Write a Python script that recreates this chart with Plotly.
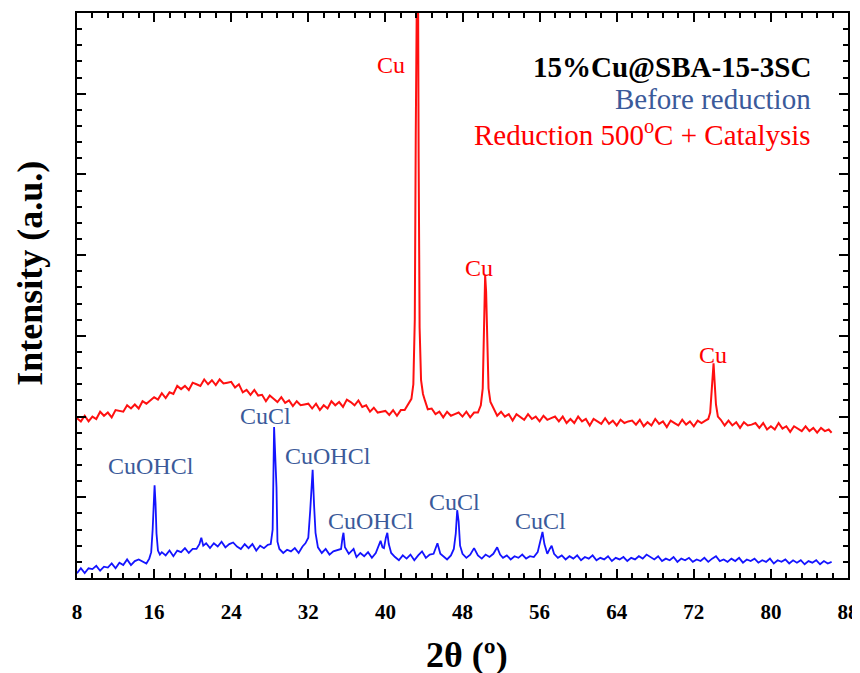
import plotly.graph_objects as go

# 2-theta positions and intensities (a.u., offset curves)
red_x = [8.0, 8.4, 8.8, 9.2, 9.6, 10.0, 10.4, 10.8, 11.2, 11.6, 12.0, 12.4, 12.8, 13.2, 13.6, 14.0,
         14.4, 14.8, 15.2, 15.6, 16.0, 16.4, 16.8, 17.2, 17.6, 18.0, 18.4, 18.8, 19.2, 19.6, 20.0,
         20.4, 20.8, 21.2, 21.6, 22.0, 22.4, 22.8, 23.2, 23.6, 24.0, 24.4, 24.8, 25.2, 25.6, 26.0,
         26.4, 26.8, 27.2, 27.6, 28.0, 28.4, 28.8, 29.2, 29.6, 30.0, 30.4, 30.8, 31.2, 31.6, 32.0,
         32.4, 32.8, 33.2, 33.6, 34.0, 34.4, 34.8, 35.2, 35.6, 36.0, 36.4, 36.8, 37.2, 37.6, 38.0,
         38.4, 38.8, 39.2, 39.6, 40.0, 40.4, 40.8, 41.2, 41.6, 42.0, 42.4, 42.7, 42.9, 43.05, 43.15,
         43.25, 43.35, 43.45, 43.55, 43.7, 43.9, 44.1, 44.4, 44.8, 45.2, 45.6, 46.0, 46.4, 46.8,
         47.2, 47.6, 48.0, 48.4, 48.8, 49.2, 49.6, 49.9, 50.1, 50.25, 50.35, 50.45, 50.55, 50.7,
         50.9, 51.2, 51.6, 52.0, 52.4, 52.8, 53.2, 53.6, 54.0, 54.4, 54.8, 55.2, 55.6, 56.0, 56.4,
         56.8, 57.2, 57.6, 58.0, 58.4, 58.8, 59.2, 59.6, 60.0, 60.4, 60.8, 61.2, 61.6, 62.0, 62.4,
         62.8, 63.2, 63.6, 64.0, 64.4, 64.8, 65.2, 65.6, 66.0, 66.4, 66.8, 67.2, 67.6, 68.0, 68.4,
         68.8, 69.2, 69.6, 70.0, 70.4, 70.8, 71.2, 71.6, 72.0, 72.4, 72.8, 73.2, 73.5, 73.7, 73.85,
         73.95, 74.05, 74.15, 74.3, 74.5, 74.8, 75.2, 75.6, 76.0, 76.4, 76.8, 77.2, 77.6, 78.0,
         78.4, 78.8, 79.2, 79.6, 80.0, 80.4, 80.8, 81.2, 81.6, 82.0, 82.4, 82.8, 83.2, 83.6, 84.0,
         84.4, 84.8, 85.2, 85.6, 86.0, 86.3]
red_y = [1.98, 1.94, 2.01, 1.94, 2.00, 1.97, 2.06, 2.01, 2.05, 1.99, 2.08, 2.07, 2.06, 2.14, 2.10,
         2.15, 2.10, 2.19, 2.16, 2.20, 2.24, 2.21, 2.29, 2.23, 2.30, 2.28, 2.38, 2.34, 2.38, 2.33,
         2.42, 2.40, 2.38, 2.46, 2.40, 2.45, 2.39, 2.46, 2.41, 2.42, 2.43, 2.36, 2.40, 2.30, 2.33,
         2.27, 2.33, 2.26, 2.27, 2.19, 2.26, 2.22, 2.18, 2.24, 2.17, 2.20, 2.13, 2.19, 2.14, 2.15,
         2.16, 2.10, 2.16, 2.08, 2.14, 2.10, 2.19, 2.14, 2.18, 2.12, 2.21, 2.18, 2.14, 2.20, 2.12,
         2.14, 2.06, 2.11, 2.05, 2.06, 2.07, 2.02, 2.08, 2.01, 2.08, 2.08, 2.17, 2.22, 2.40, 3.20,
         5.50, 8.60, 8.60, 5.20, 3.10, 2.45, 2.28, 2.20, 2.09, 2.10, 2.03, 2.06, 1.99, 2.06, 2.01,
         2.03, 2.05, 2.00, 2.06, 1.99, 2.05, 2.05, 2.14, 2.35, 3.00, 3.75, 3.55, 2.90, 2.35,
         2.18, 2.11, 2.01, 2.06, 2.00, 2.03, 1.95, 2.03, 2.00, 1.96, 2.03, 1.97, 2.00, 1.94, 2.01,
         1.96, 1.98, 2.00, 1.94, 2.00, 1.92, 1.97, 1.92, 2.00, 1.94, 1.97, 1.89, 1.97, 1.94, 1.91,
         1.98, 1.91, 1.95, 1.89, 1.96, 1.92, 1.94, 1.95, 1.90, 1.96, 1.88, 1.93, 1.89, 1.97, 1.91,
         1.94, 1.87, 1.95, 1.92, 1.89, 1.96, 1.90, 1.94, 1.88, 1.95, 1.92, 1.95, 1.97, 2.05, 2.30,
         2.55, 2.66, 2.45, 2.15, 2.00, 1.96, 1.89, 1.95, 1.89, 1.93, 1.86, 1.93, 1.89, 1.90,
         1.92, 1.86, 1.92, 1.84, 1.88, 1.84, 1.92, 1.85, 1.88, 1.81, 1.88, 1.85, 1.82, 1.88, 1.82,
         1.86, 1.80, 1.86, 1.82, 1.84, 1.80]

blue_x = [8.0, 8.4, 8.8, 9.2, 9.6, 10.0, 10.4, 10.8, 11.2, 11.6, 12.0, 12.4, 12.8, 13.2, 13.6, 14.0,
          14.4, 14.8, 15.2, 15.5, 15.7, 15.85, 15.95, 16.05, 16.15, 16.25, 16.4, 16.6, 16.8, 17.2,
          17.6, 18.0, 18.4, 18.8, 19.2, 19.6, 20.0, 20.4, 20.7, 20.9, 21.1, 21.4, 21.8, 22.2, 22.6,
          23.0, 23.4, 23.8, 24.2, 24.6, 25.0, 25.4, 25.8, 26.2, 26.6, 27.0, 27.4, 27.8, 28.1, 28.3,
          28.45, 28.55, 28.7, 28.8, 29.0, 29.4, 29.8, 30.2, 30.6, 31.0, 31.4, 31.7, 32.0, 32.2,
          32.45, 32.6, 32.75, 33.0, 33.4, 33.8, 34.2, 34.6, 35.0, 35.4, 35.55, 35.65, 35.8, 36.2,
          36.7, 37.0, 37.4, 37.8, 38.2, 38.6, 39.0, 39.3, 39.5, 39.7, 39.85, 40.05, 40.2, 40.35,
          40.6, 41.0, 41.4, 41.8, 42.2, 42.6, 43.0, 43.4, 43.8, 44.2, 44.6, 45.0, 45.4, 45.7, 46.0,
          46.4, 46.8, 47.1, 47.3, 47.45, 47.6, 47.75, 48.0, 48.4, 48.8, 49.2, 49.6, 50.0, 50.4,
          50.8, 51.2, 51.6, 51.9, 52.2, 52.6, 53.0, 53.4, 53.8, 54.2, 54.6, 55.0, 55.4, 55.8, 56.1,
          56.3, 56.5, 56.8, 57.05, 57.25, 57.5, 57.9, 58.3, 58.7, 59.1, 59.5, 59.9, 60.3, 60.7,
          61.1, 61.5, 61.9, 62.3, 62.7, 63.1, 63.5, 63.9, 64.3, 64.7, 65.1, 65.5, 65.9, 66.3, 66.7,
          67.1, 67.5, 67.9, 68.3, 68.7, 69.1, 69.5, 69.9, 70.3, 70.7, 71.1, 71.5, 71.9, 72.3, 72.7,
          73.1, 73.5, 73.9, 74.3, 74.7, 75.1, 75.5, 75.9, 76.3, 76.7, 77.1, 77.5, 77.9, 78.3, 78.7,
          79.1, 79.5, 79.9, 80.3, 80.7, 81.1, 81.5, 81.9, 82.3, 82.7, 83.1, 83.5, 83.9, 84.3, 84.7,
          85.1, 85.5, 85.9, 86.3]
blue_y = [0.06, 0.12, 0.06, 0.12, 0.11, 0.15, 0.09, 0.14, 0.13, 0.18, 0.12, 0.19, 0.16, 0.23, 0.16,
          0.21, 0.23, 0.20, 0.18, 0.24, 0.32, 0.60, 0.95, 1.15, 0.92, 0.55, 0.34, 0.29, 0.32, 0.28,
          0.34, 0.27, 0.34, 0.32, 0.37, 0.31, 0.36, 0.36, 0.42, 0.50, 0.40, 0.43, 0.37, 0.43, 0.39,
          0.45, 0.38, 0.42, 0.44, 0.39, 0.36, 0.42, 0.37, 0.42, 0.34, 0.40, 0.37, 0.41, 0.42, 0.60,
          1.87, 1.60, 1.12, 0.45, 0.36, 0.31, 0.35, 0.33, 0.37, 0.31, 0.39, 0.43, 0.50, 0.84,
          1.34, 0.90, 0.56, 0.38, 0.31, 0.36, 0.29, 0.33, 0.35, 0.36, 0.50, 0.56, 0.38, 0.30,
          0.36, 0.26, 0.31, 0.27, 0.32, 0.25, 0.31, 0.40, 0.46, 0.38, 0.37, 0.50, 0.56, 0.42,
          0.31, 0.26, 0.22, 0.28, 0.24, 0.29, 0.22, 0.28, 0.33, 0.25, 0.29, 0.30, 0.43, 0.30, 0.27,
          0.23, 0.28, 0.36, 0.55, 0.84, 0.70, 0.40, 0.30, 0.25, 0.29, 0.37, 0.28, 0.24, 0.29,
          0.26, 0.30, 0.38, 0.29, 0.25, 0.28, 0.23, 0.27, 0.25, 0.29, 0.24, 0.27, 0.26, 0.32, 0.45,
          0.57, 0.42, 0.30, 0.36, 0.40, 0.30, 0.25, 0.28, 0.23, 0.27, 0.24, 0.28, 0.22, 0.26,
          0.24, 0.28, 0.22, 0.25, 0.23, 0.27, 0.21, 0.25, 0.23, 0.26, 0.21, 0.25, 0.23, 0.27, 0.24,
          0.29, 0.26, 0.23, 0.27, 0.21, 0.24, 0.22, 0.26, 0.20, 0.24, 0.22, 0.25, 0.20, 0.23, 0.21,
          0.25, 0.20, 0.24, 0.27, 0.21, 0.23, 0.20, 0.24, 0.21, 0.25, 0.19, 0.23, 0.21, 0.24, 0.19,
          0.22, 0.20, 0.24, 0.18, 0.22, 0.20, 0.23, 0.18, 0.22, 0.19, 0.22, 0.17, 0.21, 0.19, 0.22,
          0.17, 0.21, 0.18, 0.20]

# peak labels: (text, 2theta, intensity)
red_labels = [("Cu", 40.6, 6.36), ("Cu", 49.7, 3.84), ("Cu", 74.0, 2.76)]
blue_labels = [("CuOHCl", 15.7, 1.39), ("CuCl", 27.6, 2.01), ("CuOHCl", 34.0, 1.51),
               ("CuOHCl", 38.5, 0.71), ("CuCl", 47.2, 0.94), ("CuCl", 56.1, 0.71)]

SERIF = "Liberation Serif"
LABEL_BLUE = "#3b5a9a"

fig = go.Figure()
fig.add_trace(go.Scatter(x=red_x, y=red_y, mode="lines",
                         line=dict(color="#ff1010", width=2), showlegend=False))
fig.add_trace(go.Scatter(x=blue_x, y=blue_y, mode="lines",
                         line=dict(color="#1414ff", width=1.8), showlegend=False))

for text, x, y in red_labels:
    fig.add_annotation(x=x, y=y, text=text, showarrow=False,
                       font=dict(family=SERIF, size=24, color="#ff0000"))
for text, x, y in blue_labels:
    fig.add_annotation(x=x, y=y, text=text, showarrow=False,
                       font=dict(family=SERIF, size=24, color=LABEL_BLUE))

fig.add_annotation(x=84.4, y=6.33, xanchor="right", text="<b>15%Cu@SBA-15-3SC</b>", showarrow=False,
                   font=dict(family=SERIF, size=29, color="black"))
fig.add_annotation(x=84.4, y=5.94, xanchor="right", text="Before reduction", showarrow=False,
                   font=dict(family=SERIF, size=29, color=LABEL_BLUE))
fig.add_annotation(x=84.4, y=5.51, xanchor="right", text="Reduction 500<sup>o</sup>C + Catalysis",
                   showarrow=False, font=dict(family=SERIF, size=29, color="#ff0000"))

# axis titles placed as annotations so they sit where the reference has them
fig.add_annotation(xref="paper", yref="paper", x=0.506, y=-0.136, xanchor="center", yanchor="middle",
                   text="<b>2θ (º)</b>", showarrow=False,
                   font=dict(family=SERIF, size=36, color="black"))
fig.add_annotation(xref="paper", yref="paper", x=-0.061, y=0.54, xanchor="center", yanchor="middle",
                   text="<b>Intensity (a.u.)</b>", textangle=-90, showarrow=False,
                   font=dict(family=SERIF, size=36, color="black"))

axis_common = dict(
    showline=True, linewidth=2, linecolor="black", mirror="allticks",
    ticks="inside", ticklen=9, tickwidth=2, tickcolor="black",
    showgrid=False, zeroline=False, automargin=False,
)

fig.update_xaxes(
    **axis_common,
    range=[8, 88], tick0=8, dtick=8,
    minor=dict(ticks="inside", dtick=1.6, ticklen=5, tickwidth=1.5, tickcolor="black"),
    tickfont=dict(family=SERIF, size=21, color="black", weight="bold"),
    ticklabelstandoff=14, ticklabeloverflow="allow",
)
fig.update_yaxes(
    **axis_common,
    range=[0, 7], tick0=0, dtick=1, showticklabels=False,
    minor=dict(ticks="inside", dtick=0.2, ticklen=5, tickwidth=1.5, tickcolor="black"),
)

# page body has an 8px margin, so the figure is 8px smaller than the window
fig.update_layout(
    width=852, height=665,
    margin=dict(l=69, r=12, t=5, b=95),
    plot_bgcolor="white", paper_bgcolor="white",
)

fig.write_html("out.html")
